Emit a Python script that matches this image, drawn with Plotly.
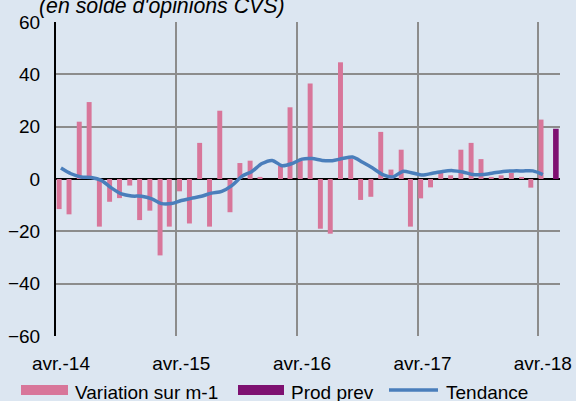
import plotly.graph_objects as go
import pandas as pd

# ---- data ----
months = [d.strftime("%Y-%m-%d") for d in pd.date_range("2014-04-01", periods=49, freq="MS")]
variation = [-11.5, -13.5, 21.9, 29.4, -18.2, -8.7, -7.3, -2.5, -15.7, -12.1, -29.2, -18.2,
             -4.7, -17.0, 13.8, -18.2, 26.1, -12.7, 6.1, 7.0, 0.8, 0.0, 5.1, 27.4,
             7.0, 36.5, -19.0, -20.9, 44.6, 7.8, -8.0, -6.8, 18.0, 3.6, 11.2, -18.2,
             -7.4, -3.2, 2.3, 1.4, 11.2, 13.8, 7.6, 0.8, 1.4, 2.3, 0.8, -3.3, 22.7]
tendance = [4.2, 2.0, 0.8, 0.6, -0.5, -3.4, -5.7, -6.5, -6.6, -7.6, -9.4, -9.4,
            -8.2, -7.4, -6.6, -5.4, -4.7, -2.5, 1.0, 2.9, 5.9, 7.1, 5.1, 5.9,
            7.6, 7.8, 7.1, 7.0, 7.8, 8.4, 6.4, 4.2, 1.7, 0.8, 2.9, 2.3,
            1.5, 2.2, 2.9, 3.2, 2.7, 1.7, 1.7, 2.3, 2.9, 3.1, 3.1, 3.1, 1.7]
prev_months = ["2018-05-01"]
prod_prev = [19.2]
tick_dates = ["2014-04-16", "2015-04-16", "2016-04-16", "2017-04-16", "2018-04-16"]
tick_labels = ["avr.-14", "avr.-15", "avr.-16", "avr.-17", "avr.-18"]
grid_dates = ["2014-04-01", "2015-04-01", "2016-04-01", "2017-04-01", "2018-04-01"]
legend_names = ["Variation sur m-1", "Prod prev", "Tendance"]

# ---- style ----
BG = "#dce6f1"
PINK = "#d8769a"
PURPLE = "#7e1171"
BLUE = "#4a7ebb"
GRID = "#8c8c8c"
FONT = "Liberation Sans, Arial, sans-serif"
DAY = 86400000

L, R, T, B = 56, 16, 22, 65
W, H = 576, 401
PW, PH = W - L - R, H - T - B


def px(X):
    return (X - L) / PW


def py(Y):
    return (H - B - Y) / PH


fig = go.Figure()
fig.add_trace(go.Bar(x=months, y=variation, name=legend_names[0], marker_color=PINK,
                     marker_line_width=0, width=15 * DAY, offset=2 * DAY, showlegend=False))
fig.add_trace(go.Bar(x=prev_months, y=prod_prev, name=legend_names[1], marker_color=PURPLE,
                     marker_line_width=0, width=17 * DAY, offset=16 * DAY, showlegend=False))
fig.add_trace(go.Scatter(x=months, y=tendance, name=legend_names[2], mode="lines",
                         xperiod="M1", xperiodalignment="middle",
                         line=dict(color=BLUE, width=3.5, shape="spline", smoothing=0.8),
                         showlegend=False))

fig.update_layout(
    width=W, height=H, margin=dict(l=L, r=R, t=T, b=B, autoexpand=False),
    paper_bgcolor=BG, plot_bgcolor=BG, barmode="overlay",
    font=dict(family=FONT, size=19, color="#000000"),
    xaxis=dict(type="date", range=["2014-04-01", "2018-06-07"], automargin=False,
               tickmode="array", tickvals=tick_dates, ticktext=tick_labels,
               showgrid=False, zeroline=False, showline=False, ticks="",
               ticklabelstandoff=14, tickfont=dict(size=19),
               minor=dict(tickmode="array", tickvals=grid_dates, showgrid=True,
                          gridcolor=GRID, gridwidth=1.5, ticks="")),
    yaxis=dict(range=[-60, 60], tickmode="array", tickvals=[-60, -40, -20, 0, 20, 40, 60],
               automargin=False,
               showgrid=True, gridcolor=GRID, gridwidth=1.5,
               zeroline=True, zerolinecolor="#000000", zerolinewidth=2,
               showline=True, linecolor="#000000", linewidth=2,
               ticks="", ticklabelstandoff=10, tickfont=dict(size=19)),
)

# title (partly cut at the top as in the reference)
fig.add_annotation(text="(en solde d'opinions CVS)", xref="paper", yref="paper",
                   x=px(37), y=py(20), xanchor="left", yanchor="bottom", showarrow=False,
                   font=dict(size=21.3, family=FONT, color="#000000", style="italic"))

# custom legend
ly = 390
fig.add_shape(type="rect", xref="paper", yref="paper", x0=px(21), x1=px(68),
              y0=py(395), y1=py(385), fillcolor=PINK, line_width=0)
fig.add_shape(type="rect", xref="paper", yref="paper", x0=px(238), x1=px(284),
              y0=py(395), y1=py(385), fillcolor=PURPLE, line_width=0)
fig.add_shape(type="line", xref="paper", yref="paper", x0=px(389), x1=px(438),
              y0=py(ly), y1=py(ly), line=dict(color=BLUE, width=3.5))
for xt, name in zip([73, 289, 444], legend_names):
    fig.add_annotation(text=name, xref="paper", yref="paper", x=px(xt), y=py(392),
                       xanchor="left", yanchor="middle", showarrow=False,
                       font=dict(size=19, family=FONT, color="#000000"))

fig.write_html("out.html", config={"displayModeBar": False},
               post_script="document.body.style.margin='0px';document.body.style.overflow='hidden';")
